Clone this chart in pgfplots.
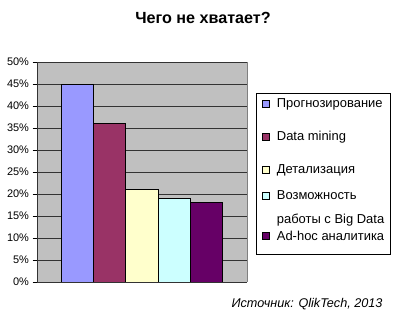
\documentclass[border=0pt]{standalone}
\usepackage{fontspec}
\setmainfont{Liberation Sans}
\usepackage{pgfplots}
\pgfplotsset{compat=1.18}
\definecolor{c1}{HTML}{9999FF}
\definecolor{c2}{HTML}{993366}
\definecolor{c3}{HTML}{FFFFCC}
\definecolor{c4}{HTML}{CCFFFF}
\definecolor{c5}{HTML}{660066}
\definecolor{bg}{HTML}{C0C0C0}
\newcommand{\st}[2]{\rule[-#2bp]{0pt}{\dimexpr#1bp+#2bp\relax}}
\begin{document}
\begin{tikzpicture}
\path[use as bounding box] (0,0) rectangle (400bp,321bp);
\begin{axis}[
  at={(37bp,39bp)}, anchor=south west,
  scale only axis, width=210bp, height=220bp,
  ymin=0, ymax=50, xmin=-0.28, xmax=6.28,
  ytick={0,5,...,50},
  yticklabel={\pgfmathprintnumber{\tick}\%},
  /pgf/number format/assume math mode=true,
  ymajorgrids, grid style={black!80, line width=0.7bp},
  xtick=\empty,
  axis background/.style={fill=bg},
  axis x line*=bottom, axis y line*=left,
  y axis line style={draw=black!80, line width=0.7bp},
  x axis line style={draw=black!80, line width=0.7bp},
  extra description/.code={\draw[black!50, line width=0.7bp] (rel axis cs:1,1) -- (rel axis cs:1,0);},
  ytick style={black, line width=0.7bp},
  tick align=outside, major tick length=4.5bp,
  tick label style={font=\fontsize{11}{13}\selectfont},
  ybar, bar width=1, bar shift=0pt,
  every axis plot/.append style={draw=black, line width=1bp},
  legend style={at={(1,1)}, anchor=north west, xshift=8.5bp, yshift=-31bp,
    draw=black, line width=0.6bp, fill=white,
    font=\fontsize{13}{15}\selectfont,
    inner xsep=6bp, inner ysep=0bp,
    row sep=0bp, column sep=7.5bp,
    nodes={anchor=base west, inner xsep=0bp, inner ysep=0bp, text height=, text depth=}},
  legend image code/.code={\draw[#1, line width=0.6bp] (0bp,0.5bp) rectangle (7bp,7.5bp);},
]
\addplot[fill=c1] coordinates {(1,45)};
\addplot[fill=c2] coordinates {(2,36)};
\addplot[fill=c3] coordinates {(3,21)};
\addplot[fill=c4] coordinates {(4,19)};
\addplot[fill=c5] coordinates {(5,18)};
\addlegendentry{\st{14}{16}Прогнозирование}
\addlegendentry{\st{17}{16}Data mining}
\addlegendentry{\st{17}{13}Детализация}
\addlegendentry{\st{13}{0}\begin{tabular}[t]{@{}l@{}}Возможность\\[9bp]работы с Big Data\end{tabular}}
\addlegendentry{\st{12.5}{14}Ad-hoc аналитика}
\end{axis}
\node[font=\bfseries\fontsize{16.2}{19}\selectfont] at (203bp,303bp) {Чего не хватает?};
\node[font=\itshape\fontsize{12.7}{15}\selectfont, anchor=east] at (386bp,17bp) {Источник: QlikTech, 2013};
\end{tikzpicture}
\end{document}
